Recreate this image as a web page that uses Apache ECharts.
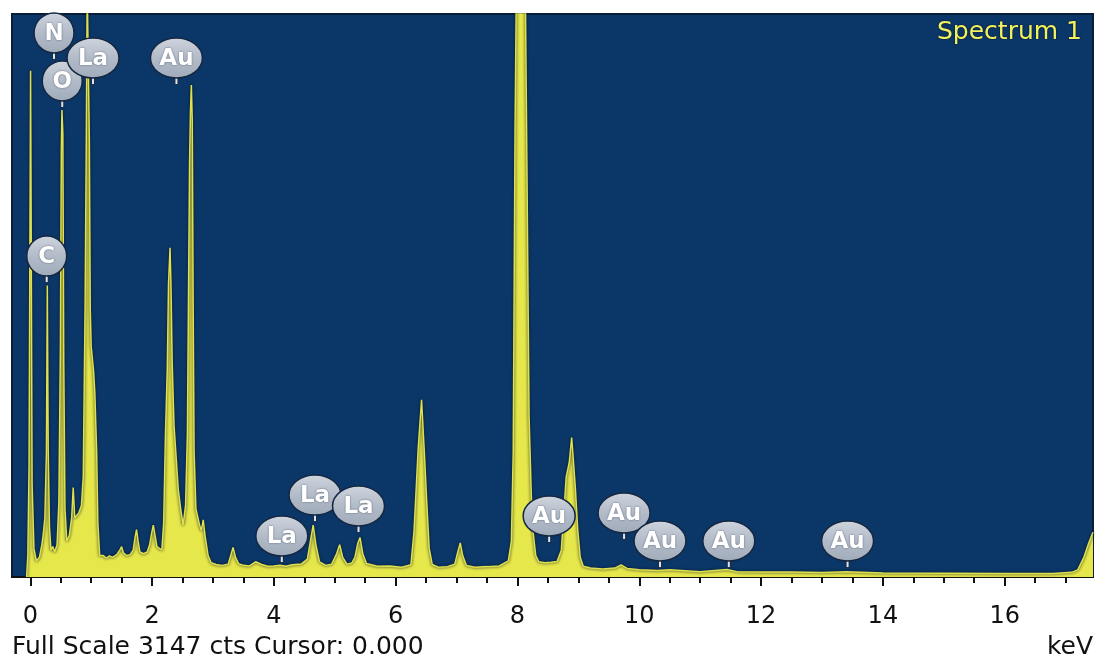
<!DOCTYPE html>
<html>
<head>
<meta charset="utf-8">
<script src="https://cdn.jsdelivr.net/npm/echarts@6/dist/echarts.min.js"></script>
<style>
  html, body { margin: 0; padding: 0; background: #ffffff; }
  #chart { width: 1098px; height: 660px; }
</style>
</head>
<body>
<div id="chart"></div>
<script>
// EDS spectrum: energy channel (keV) and counts
const energyKeV = [
  -0.06, -0.04, -0.02, -0.005, 0.005, 0.015, 0.03, 0.06, 0.1, 0.15, 0.19, 0.21, 0.24, 0.265, 0.28, 0.295,
  0.315, 0.34, 0.37, 0.40, 0.44, 0.47, 0.495, 0.51, 0.52, 0.535, 0.55, 0.57, 0.60, 0.64, 0.68, 0.705,
  0.73, 0.76, 0.80, 0.84, 0.87, 0.90, 0.92, 0.935, 0.955, 0.97, 0.985, 1.0, 1.04, 1.06, 1.09, 1.11,
  1.14, 1.2, 1.25, 1.3, 1.35, 1.42, 1.47, 1.50, 1.53, 1.58, 1.64, 1.69, 1.72, 1.745, 1.77, 1.80,
  1.86, 1.92, 1.96, 1.99, 2.02, 2.05, 2.08, 2.12, 2.16, 2.19, 2.22, 2.25, 2.27, 2.295, 2.31, 2.33,
  2.36, 2.43, 2.47, 2.51, 2.55, 2.58, 2.615, 2.63, 2.645, 2.66, 2.675, 2.69, 2.72, 2.78, 2.81, 2.84,
  2.87, 2.92, 2.97, 3.05, 3.15, 3.25, 3.30, 3.33, 3.37, 3.42, 3.5, 3.6, 3.7, 3.8, 3.9, 4.0,
  4.1, 4.2, 4.3, 4.45, 4.55, 4.6, 4.645, 4.69, 4.75, 4.85, 4.95, 5.03, 5.08, 5.13, 5.2, 5.28,
  5.33, 5.38, 5.415, 5.46, 5.52, 5.7, 5.9, 6.1, 6.25, 6.3, 6.33, 6.37, 6.425, 6.47, 6.51, 6.55,
  6.6, 6.7, 6.85, 6.97, 7.02, 7.06, 7.1, 7.16, 7.3, 7.5, 7.7, 7.85, 7.9, 7.93, 7.96, 7.99,
  8.12, 8.15, 8.19, 8.24, 8.3, 8.35, 8.45, 8.55, 8.65, 8.72, 8.76, 8.80, 8.85, 8.89, 8.91, 8.95,
  8.99, 9.03, 9.08, 9.2, 9.4, 9.6, 9.7, 9.8, 10.0, 10.3, 10.5, 11.0, 11.44, 11.6, 12.0, 12.5,
  13.0, 13.4, 14.0, 15.0, 16.0, 16.8, 17.1, 17.2, 17.3, 17.38, 17.45
];
const counts = [
  0, 120, 620, 1950, 2830, 1950, 520, 160, 90, 110, 180, 230, 330, 700, 1630, 700,
  280, 150, 170, 140, 180, 420, 1300, 2400, 2610, 2480, 1200, 380, 200, 230, 330, 500,
  330, 320, 360, 400, 560, 1500, 2450, 3300, 3300, 2450, 1500, 1290, 1150, 1030, 700, 300,
  120, 120, 105, 118, 110, 125, 150, 170, 135, 120, 125, 150, 220, 265, 200, 140,
  130, 140, 180, 240, 290, 230, 170, 160, 150, 300, 800, 1170, 1640, 1840, 1640, 1200,
  850, 490, 380, 290, 400, 800, 2300, 2600, 2750, 2550, 1500, 700, 380, 290, 260, 320,
  230, 120, 80, 70, 65, 72, 130, 165, 110, 75, 65, 62, 85, 70, 60, 62,
  66, 60, 68, 72, 100, 200, 290, 180, 85, 65, 72, 130, 180, 110, 72, 78,
  110, 190, 220, 130, 75, 60, 62, 55, 68, 250, 450, 720, 990, 700, 420, 160,
  70, 55, 58, 72, 140, 190, 120, 65, 55, 58, 62, 90, 200, 700, 2500, 3600,
  3600, 2500, 900, 300, 120, 85, 80, 82, 86, 150, 350, 560, 640, 780, 780, 500,
  260, 110, 60, 50, 45, 50, 68, 48, 40, 36, 40, 30, 42, 30, 28, 28,
  25, 30, 22, 21, 19, 20, 26, 40, 110, 190, 250
];

// Axis ticks and labels (keV)
const tickLabels = [0, 2, 4, 6, 8, 10, 12, 14, 16];
const minorTicks = [0, 0.5, 1, 1.5, 2, 2.5, 3, 3.5, 4, 4.5, 5, 5.5, 6, 6.5, 7, 7.5, 8, 8.5,
  9, 9.5, 10, 10.5, 11, 11.5, 12, 12.5, 13, 13.5, 14, 14.5, 15, 15.5, 16, 16.5, 17];

// Element markers: name, line energy (keV), height of the marker tip (counts)
const peakNames = ['C', 'N', 'O', 'La', 'Au', 'La', 'La', 'La', 'Au', 'Au', 'Au', 'Au', 'Au'];
const peakEnergies = [0.27, 0.39, 0.525, 1.03, 2.40, 4.13, 4.675, 5.39, 8.52, 9.75, 10.34, 11.47, 13.42];
const peakTips = [1643, 2890, 2622, 2750, 2750, 78, 307, 246, 190, 207, 50, 50, 50];

const fullScale = 3147;
const FONT = 'DejaVu Sans';

const spectrum = energyKeV.map((e, i) => [e, counts[i]]);
const markers = peakEnergies.map((e, i) => [e, peakTips[i]]);

const chart = echarts.init(document.getElementById('chart'), null, { renderer: 'canvas' });

const bubbleFill = new echarts.graphic.LinearGradient(0, 0, 0, 1, [
  { offset: 0, color: '#cfd5de' },
  { offset: 0.5, color: '#b2bbc8' },
  { offset: 1, color: '#a0abba' }
]);

function renderMarker(params, api) {
  const p = api.coord([api.value(0), api.value(1)]);
  const name = peakNames[params.dataIndex];
  const rx = name.length > 1 ? 26 : 20;
  const ry = 20;
  const cx = p[0];
  const cy = p[1] - 27;
  return {
    type: 'group',
    children: [
      { type: 'line', shape: { x1: cx, y1: cy + ry - 3, x2: cx, y2: p[1] },
        style: { stroke: '#1a2c48', lineWidth: 4 } },
      { type: 'line', shape: { x1: cx, y1: cy + ry - 3, x2: cx, y2: p[1] - 1 },
        style: { stroke: '#dfe4ea', lineWidth: 2 } },
      { type: 'ellipse', shape: { cx: cx, cy: cy, rx: rx, ry: ry },
        style: { fill: bubbleFill, stroke: '#142640', lineWidth: 1.5 } },
      { type: 'text', x: cx, y: cy + 1,
        style: { text: name, align: 'center', verticalAlign: 'middle', fill: '#ffffff',
          font: 'bold 23px "' + FONT + '"', textShadowColor: 'rgba(40,50,70,0.7)', textShadowBlur: 2 } }
    ]
  };
}

chart.setOption({
  animation: false,
  backgroundColor: '#ffffff',
  grid: {
    left: 12, right: 5, top: 14, bottom: 83,
    show: true, backgroundColor: '#0b3768', borderColor: '#0a1d36', borderWidth: 2
  },
  xAxis: [
    {
      type: 'value', min: -0.3, max: 17.45, position: 'bottom',
      axisLine: { show: true, onZero: false, lineStyle: { color: '#111111', width: 2 } },
      axisTick: { show: true, customValues: minorTicks, length: 6, lineStyle: { color: '#111111', width: 2 } },
      axisLabel: { show: true, customValues: tickLabels, margin: 28, color: '#111111',
        fontFamily: FONT, fontSize: 24 },
      splitLine: { show: false }
    },
    {
      type: 'value', min: -0.3, max: 17.45, position: 'bottom', offset: 0,
      axisLine: { show: false },
      axisTick: { show: true, customValues: tickLabels, length: 9, lineStyle: { color: '#111111', width: 2 } },
      axisLabel: { show: false },
      splitLine: { show: false }
    }
  ],
  yAxis: {
    type: 'value', min: 0, max: fullScale,
    show: false, splitLine: { show: false }
  },
  series: [
    {
      name: 'Spectrum 1',
      type: 'line',
      data: spectrum,
      xAxisIndex: 0,
      showSymbol: false,
      symbol: 'none',
      clip: true,
      silent: true,
      lineStyle: { color: '#dfe04c', width: 1.5, shadowColor: 'rgba(2,16,36,0.95)', shadowBlur: 3 },
      areaStyle: { color: '#e6e74a', opacity: 1 },
      z: 2
    },
    {
      name: 'markers',
      type: 'custom',
      xAxisIndex: 0,
      data: markers,
      renderItem: renderMarker,
      clip: false,
      silent: true,
      z: 5
    }
  ],
  graphic: [
    { type: 'text', right: 16, top: 20,
      style: { text: 'Spectrum 1', fill: '#f2f25c', font: '25px "' + FONT + '"',
        textShadowColor: 'rgba(0,10,30,0.9)', textShadowBlur: 2 } },
    { type: 'text', left: 12, top: 635,
      style: { text: 'Full Scale ' + fullScale + ' cts Cursor: 0.000', fill: '#111111', font: '25px "' + FONT + '"' } },
    { type: 'text', right: 5, top: 635,
      style: { text: 'keV', fill: '#111111', font: '25px "' + FONT + '"' } }
  ]
});
</script>
</body>
</html>
